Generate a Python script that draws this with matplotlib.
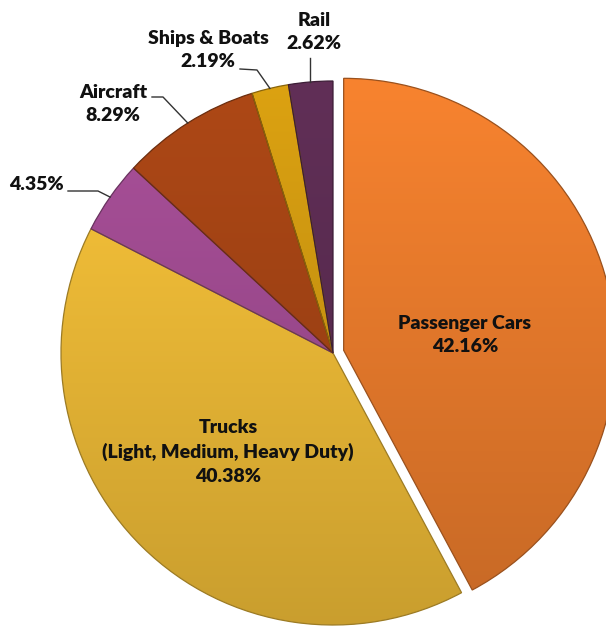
import numpy as np
import matplotlib
matplotlib.use("Agg")
import matplotlib.pyplot as plt
from matplotlib.colors import to_rgb

plt.rcParams["font.family"] = ["Lato", "DejaVu Sans"]

# transport energy use by mode (share of total, %)
modes = ["Passenger Cars", "Trucks\n(Light, Medium, Heavy Duty)", "", "Aircraft",
         "Ships & Boats", "Rail"]
shares = [42.16, 40.38, 4.35, 8.29, 2.19, 2.62]
colors = ["#F8832F", "#FCC63A", "#AA509A", "#AE4816", "#DCA212", "#612F57"]

W, H = 606, 629
CX, CY, R = 333, H - 353, 272
GAP = 11
INK = "#111111"

fig = plt.figure(figsize=(W / 100, H / 100), dpi=100)
ax = fig.add_axes([0, 0, 1, 1])

wedges, _ = ax.pie(shares, colors=colors, startangle=90, counterclock=False,
                   explode=[GAP, 0, 0, 0, 0, 0], radius=R, center=(CX, CY),
                   wedgeprops=dict(linewidth=0.9))

# vertical light-to-dark shading on each slice
ys = np.linspace(0, 1, 256)[:, None]
for w, c in zip(wedges, colors):
    rgb = np.array(to_rgb(c))
    bot = rgb * 0.80
    grad = rgb * ys + bot * (1 - ys)
    img = grad.reshape(256, 1, 3)
    cx, cy = w.center
    ax.imshow(img, extent=(cx - R, cx + R, cy - R, cy + R), origin="lower",
              aspect="auto", clip_path=w, zorder=1.5, interpolation="bilinear")
    w.set_edgecolor(tuple(rgb * 0.62))
    w.set_facecolor("none")
    w.set_zorder(2)
ax.set_xlim(0, W)
ax.set_ylim(0, H)
ax.set_aspect("equal")
ax.axis("off")


def rim(i):
    start = 90 - sum(shares[:i]) * 3.6
    mid = np.deg2rad(start - shares[i] * 1.8)
    return CX + R * np.cos(mid), CY + R * np.sin(mid)


fs = 14
lab = dict(ha="center", va="center", fontsize=fs, fontweight="heavy",
           color=INK, linespacing=1.45, zorder=5)
# labels inside the two big slices
ax.text(465, H - 335, f"{modes[0]}\n{shares[0]:.2f}%", **lab)
ax.text(228, H - 452, f"{modes[1]}\n{shares[1]:.2f}%", **lab)

# outside labels with leader lines
ax.text(36, H - 184, f"{shares[2]:.2f}%", **lab)
ax.text(113, H - 104, f"{modes[3]}\n{shares[3]:.2f}%", **lab)
ax.text(208, H - 50, f"{modes[4]}\n{shares[4]:.2f}%", **lab)
ax.text(314, H - 32, f"{modes[5]}\n{shares[5]:.2f}%", **lab)

leaders = {2: [(68, 191), (98, 191)],
           3: [(152, 97), (163, 97)],
           4: [(240, 69), (257, 70)],
           5: None}
for i, pts in leaders.items():
    rx, ry = rim(i)
    if pts is None:
        xs, yy = [rx, rx], [H - 58, ry]
    else:
        xs = [p[0] for p in pts] + [rx]
        yy = [H - p[1] for p in pts] + [ry]
    ax.plot(xs, yy, color="#333333", lw=1.0, zorder=3)

fig.savefig("out.png", dpi=100, facecolor="white")
